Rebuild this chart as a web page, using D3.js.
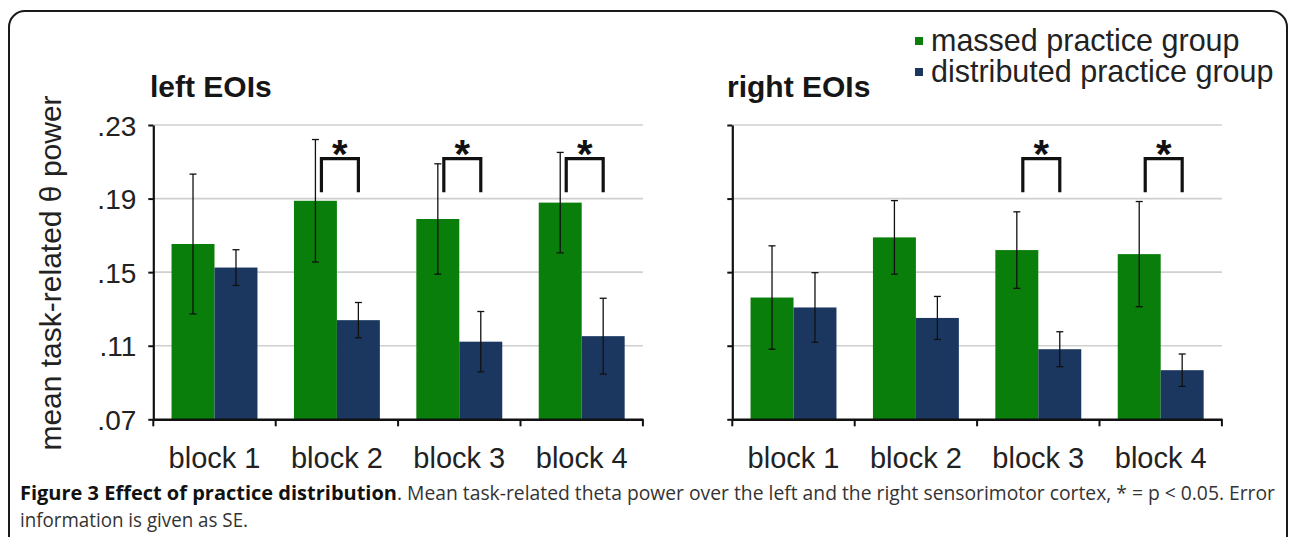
<!DOCTYPE html>
<html><head><meta charset="utf-8">
<script src="https://cdn.jsdelivr.net/npm/d3@7"></script>
<style>
html,body{margin:0;padding:0;background:#fff;}
svg{display:block;}
</style></head>
<body>
<svg id="chart" width="1293" height="537"></svg>
<script>
// ---- data ----
const categories = ["block 1", "block 2", "block 3", "block 4"];
const seriesNames = ["massed practice group", "distributed practice group"];
const leftMassed = [0.1653, 0.1888, 0.1789, 0.1878];
const leftMassedSE = [0.0380, 0.0333, 0.0300, 0.0273];
const leftDistributed = [0.1525, 0.1239, 0.1122, 0.1152];
const leftDistributedSE = [0.0097, 0.0096, 0.0164, 0.0206];
const rightMassed = [0.1362, 0.1689, 0.1620, 0.1598];
const rightMassedSE = [0.0281, 0.0200, 0.0208, 0.0286];
const rightDistributed = [0.1308, 0.1251, 0.1081, 0.0967];
const rightDistributedSE = [0.0189, 0.0117, 0.0095, 0.0088];
const leftSignificant = [false, true, true, true];
const rightSignificant = [false, false, true, true];
const yTicks = [0.07, 0.11, 0.15, 0.19, 0.23];
const yTickLabels = [".07", ".11", ".15", ".19", ".23"];
const panelTitles = ["left EOIs", "right EOIs"];
const yAxisTitle = "mean task-related \u03B8 power";
const captionBold = "Figure 3 Effect of practice distribution";
const captionRest = ". Mean task-related theta power over the left and the right sensorimotor cortex, * = p < 0.05. Error";
const captionLine2 = "information is given as SE.";

const colors = ["#0a7e0a", "#1b375f"];
const FONT = "'Liberation Sans', Arial, sans-serif";

const svg = d3.select("#chart");

// frame
svg.append("rect")
  .attr("x", 9).attr("y", 11).attr("width", 1278).attr("height", 620)
  .attr("rx", 16).attr("ry", 16)
  .attr("fill", "none").attr("stroke", "#1a1a1a").attr("stroke-width", 2);

const yTop = 125, yBottom = 419.3;
const y = d3.scaleLinear().domain([0.07, 0.23]).range([yBottom, yTop]);

const panels = [
  { x0: 153.3, title: panelTitles[0], titleX: 150, labels: true,
    massed: leftMassed, massedSE: leftMassedSE, dist: leftDistributed, distSE: leftDistributedSE, sig: leftSignificant },
  { x0: 732.3, title: panelTitles[1], titleX: 727, labels: false,
    massed: rightMassed, massedSE: rightMassedSE, dist: rightDistributed, distSE: rightDistributedSE, sig: rightSignificant }
];
const panelWidth = 489.6;

panels.forEach(p => {
  const g = svg.append("g");
  const x = d3.scaleBand().domain(categories).range([p.x0, p.x0 + panelWidth]).padding(0);
  const bw = x.bandwidth();
  const inner = d3.scaleBand().domain([0, 1]).range([bw * 0.149, bw * 0.851]).padding(0);

  // gridlines
  g.selectAll("line.grid").data(yTicks.slice(1)).enter().append("line")
    .attr("x1", p.x0).attr("x2", p.x0 + panelWidth)
    .attr("y1", d => y(d)).attr("y2", d => y(d))
    .attr("stroke", "#cfcfcf").attr("stroke-width", 1.6);

  // bars
  const rows = categories.map((c, i) => ({
    cat: c,
    vals: [
      { s: 0, v: p.massed[i], se: p.massedSE[i] },
      { s: 1, v: p.dist[i], se: p.distSE[i] }
    ],
    sig: p.sig[i]
  }));
  const cg = g.selectAll("g.cat").data(rows).enter().append("g")
    .attr("transform", d => `translate(${x(d.cat)},0)`);
  cg.selectAll("rect").data(d => d.vals).enter().append("rect")
    .attr("x", d => inner(d.s)).attr("width", inner.bandwidth())
    .attr("y", d => y(d.v)).attr("height", d => y(0.07) - y(d.v))
    .attr("fill", d => colors[d.s]);

  // error bars
  const eb = cg.selectAll("g.err").data(d => d.vals).enter().append("g")
    .attr("stroke", "#111").attr("stroke-width", 1.3);
  const cx = d => inner(d.s) + inner.bandwidth() / 2;
  eb.append("line").attr("x1", cx).attr("x2", cx)
    .attr("y1", d => y(d.v + d.se)).attr("y2", d => y(d.v - d.se));
  eb.append("line").attr("x1", d => cx(d) - 3.5).attr("x2", d => cx(d) + 3.5)
    .attr("y1", d => y(d.v + d.se)).attr("y2", d => y(d.v + d.se));
  eb.append("line").attr("x1", d => cx(d) - 3.5).attr("x2", d => cx(d) + 3.5)
    .attr("y1", d => y(d.v - d.se)).attr("y2", d => y(d.v - d.se));

  // significance brackets
  const sg = cg.filter(d => d.sig);
  const bl = inner(0) + inner.bandwidth() / 2 + 6;
  const br = inner(1) + inner.bandwidth() / 2;
  sg.append("path")
    .attr("d", `M${bl},${y(0.1935)}V${y(0.2117)}H${br}V${y(0.1935)}`)
    .attr("fill", "none").attr("stroke", "#111").attr("stroke-width", 3.2)
    .attr("stroke-linejoin", "miter");
  sg.append("text")
    .attr("x", (bl + br) / 2).attr("y", y(0.2117) + 9)
    .attr("text-anchor", "middle")
    .attr("font-family", FONT).attr("font-weight", "bold").attr("font-size", 40)
    .attr("fill", "#111").text("*");

  // y axis
  const yAxis = d3.axisLeft(y).tickValues(yTicks)
    .tickFormat((d, i) => p.labels ? yTickLabels[i] : "")
    .tickSizeInner(5).tickSizeOuter(0).tickPadding(12);
  const ya = g.append("g").attr("transform", `translate(${p.x0},0)`).call(yAxis);
  ya.select(".domain").attr("stroke", "#111").attr("stroke-width", 2.2);
  ya.selectAll(".tick line").attr("stroke", "#111").attr("stroke-width", 2);
  ya.selectAll(".tick text").attr("font-family", FONT).attr("font-size", 28)
    .attr("fill", "#222").attr("dy", "0.36em");

  // x axis
  const xAxis = d3.axisBottom(x).tickSize(0).tickPadding(28);
  const xa = g.append("g").attr("transform", `translate(0,${yBottom})`).call(xAxis);
  xa.select(".domain").attr("stroke", "#111").attr("stroke-width", 2.6);
  xa.selectAll(".tick text").attr("font-family", FONT).attr("font-size", 29)
    .attr("fill", "#222");
  // boundary ticks between categories
  const bounds = categories.map(c => x(c)).concat([p.x0 + panelWidth]);
  g.selectAll("line.bt").data(bounds).enter().append("line")
    .attr("x1", d => d).attr("x2", d => d)
    .attr("y1", yBottom).attr("y2", yBottom + 7)
    .attr("stroke", "#111").attr("stroke-width", 2);

  // title
  g.append("text").attr("x", p.titleX).attr("y", 97)
    .attr("font-family", FONT).attr("font-weight", "bold").attr("font-size", 30)
    .attr("fill", "#161616").text(p.title);
});

// y-axis title
svg.append("text")
  .attr("transform", "translate(61,273) rotate(-90)")
  .attr("text-anchor", "middle")
  .attr("font-family", FONT).attr("font-size", 30).attr("fill", "#222")
  .text(yAxisTitle);

// legend
const lg = svg.append("g");
seriesNames.forEach((name, i) => {
  lg.append("rect").attr("x", 915).attr("y", 37 + i * 31).attr("width", 8).attr("height", 8)
    .attr("fill", colors[i]);
  lg.append("text").attr("x", 931).attr("y", 51 + i * 31)
    .attr("font-family", FONT).attr("font-size", 30.5).attr("fill", "#222").text(name);
});

// caption
const CAP = "'Open Sans', 'Noto Sans', sans-serif";
svg.append("text").attr("x", 20).attr("y", 500)
  .attr("font-family", CAP).attr("font-weight", "bold").attr("font-size", 19.5)
  .attr("fill", "#111")
  .attr("textLength", 377).attr("lengthAdjust", "spacingAndGlyphs")
  .text(captionBold);
svg.append("text").attr("x", 397).attr("y", 500)
  .attr("font-family", CAP).attr("font-size", 19.5)
  .attr("fill", "#333")
  .attr("textLength", 878).attr("lengthAdjust", "spacingAndGlyphs")
  .text(captionRest);
svg.append("text").attr("x", 20).attr("y", 527)
  .attr("font-family", CAP).attr("font-size", 19.5)
  .attr("fill", "#333")
  .attr("textLength", 228).attr("lengthAdjust", "spacingAndGlyphs")
  .text(captionLine2);
</script>
</body></html>
